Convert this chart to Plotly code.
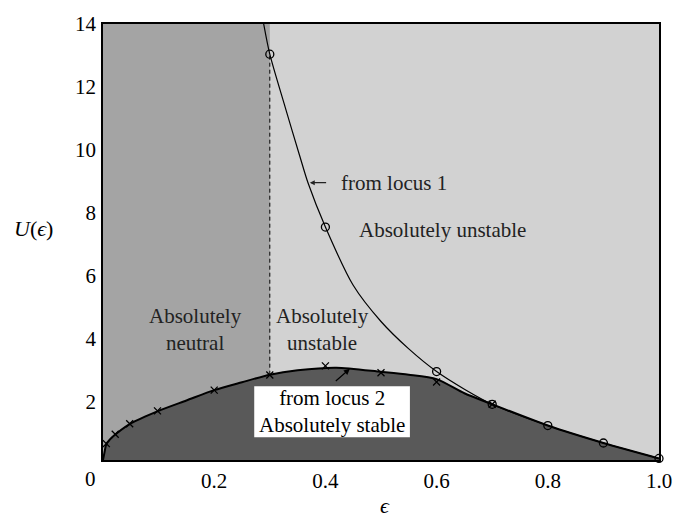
import plotly.graph_objects as go

# ---- data ----
locus1_eps = [0.289, 0.3, 0.3276, 0.354, 0.369, 0.4, 0.45, 0.5, 0.55, 0.6, 0.65, 0.7, 0.8, 0.9, 1.0]
locus1_U = [14.0, 13.04, 11.36, 9.80, 8.94, 7.55, 5.70, 4.55, 3.68, 2.96, 2.40, 1.92, 1.245, 0.69, 0.2]

circle_eps = [0.3, 0.4, 0.6, 0.7, 0.8, 0.9, 1.0]
circle_U = [13.04, 7.55, 2.96, 1.92, 1.245, 0.69, 0.2]

locus2_eps = [0.0, 0.003, 0.006, 0.015, 0.025, 0.05, 0.1, 0.15, 0.2, 0.25, 0.3, 0.35, 0.42,
              0.5, 0.55, 0.6, 0.65, 0.7, 0.8, 0.9, 1.0]
locus2_U = [0.15, 0.42, 0.66, 0.85, 1.0, 1.31, 1.71, 2.04, 2.37, 2.62, 2.86, 3.0, 3.08,
            2.95, 2.86, 2.72, 2.27, 1.92, 1.245, 0.69, 0.2]

cross_eps = [0.006, 0.022, 0.048, 0.098, 0.2, 0.3, 0.4, 0.5, 0.6, 0.7]
cross_U = [0.67, 0.97, 1.30, 1.71, 2.37, 2.85, 3.14, 2.92, 2.63, 1.92]

neutral_eps = [0.0, 0.3, 0.3, 0.0]
neutral_U = [0.0, 0.0, 14.0, 14.0]

dashed_eps = [0.3, 0.3]
dashed_U = [2.86, 13.04]

x_ticks = [0.2, 0.4, 0.6, 0.8, 1.0]
x_ticktext = ["0.2", "0.4", "0.6", "0.8", "1.0"]
y_ticks = [2, 4, 6, 8, 10, 12, 14]
y_ticktext = ["2", "4", "6", "8", "10", "12", "14"]

FONT = "Liberation Serif"
LIGHT = "#d2d2d2"
MID = "#a4a4a4"
DARK = "#595959"

fig = go.Figure()

# absolutely neutral region
fig.add_trace(go.Scatter(x=neutral_eps, y=neutral_U, fill="toself", fillcolor=MID,
                         mode="lines", line=dict(width=0), hoverinfo="skip", showlegend=False))
# absolutely stable region (below locus 2)
fig.add_trace(go.Scatter(x=locus2_eps, y=locus2_U, fill="tozeroy", fillcolor=DARK,
                         mode="lines", line=dict(color="black", width=2, shape="spline", smoothing=0.7),
                         hoverinfo="skip", showlegend=False))
# dashed divider
fig.add_trace(go.Scatter(x=dashed_eps, y=dashed_U, mode="lines",
                         line=dict(color="black", width=1, dash="4px,3px"),
                         hoverinfo="skip", showlegend=False))
# locus 1 curve
fig.add_trace(go.Scatter(x=locus1_eps, y=locus1_U, mode="lines",
                         line=dict(color="black", width=1.2, shape="spline", smoothing=0.8),
                         hoverinfo="skip", showlegend=False))
# markers
fig.add_trace(go.Scatter(x=circle_eps, y=circle_U, mode="markers",
                         marker=dict(symbol="circle-open", size=8, color="black", line=dict(width=1.3)),
                         showlegend=False, cliponaxis=False))
fig.add_trace(go.Scatter(x=cross_eps, y=cross_U, mode="markers",
                         marker=dict(symbol="x-thin-open", size=7, color="black", line=dict(width=1.3)),
                         showlegend=False))

# white label box
fig.add_shape(type="rect", xref="x", yref="y", x0=0.272, x1=0.552, y0=0.87, y1=2.49,
              fillcolor="white", line=dict(width=0), layer="above")

txt = dict(family=FONT, size=21, color="#222222")
ann = [
    dict(x=0.166, y=4.28, text="Absolutely<br>neutral"),
    dict(x=0.395, y=4.28, text="Absolutely<br>unstable"),
    dict(x=0.61, y=7.47, text="Absolutely unstable"),
    dict(x=0.412, y=1.68, text="from locus 2<br>Absolutely stable", font=dict(family=FONT, size=21, color="black")),
]
for a in ann:
    fig.add_annotation(xref="x", yref="y", showarrow=False, font=a.pop("font", txt),
                       align="center", **a)

fig.add_annotation(xref="x", yref="y", x=0.424, y=8.96, text="from locus 1", xanchor="left",
                   showarrow=False, font=txt)
fig.add_annotation(xref="x", yref="y", axref="x", ayref="y", x=0.372, y=8.96, ax=0.404, ay=8.96,
                   text="", showarrow=True, arrowhead=2, arrowsize=0.9, arrowwidth=1.1,
                   arrowcolor="#222222")
# arrow from locus-2 label to the curve
fig.add_annotation(xref="x", yref="y", axref="x", ayref="y", x=0.444, y=3.05, ax=0.416, ay=2.62,
                   text="", showarrow=True, arrowhead=2, arrowsize=1, arrowwidth=1.2, arrowcolor="black")

# corner zero and axis titles
fig.add_annotation(xref="paper", yref="paper", x=-0.023, y=-0.043, xanchor="center", yanchor="middle",
                   text="0", showarrow=False, font=dict(family=FONT, size=21, color="black"))
fig.add_annotation(xref="paper", yref="paper", x=-0.125, y=0.53, xanchor="center", yanchor="middle",
                   text="<i>U</i>(<i>\u03f5</i>)",
                   showarrow=False, font=dict(family=FONT, size=22, color="black"))
fig.add_annotation(xref="paper", yref="paper", x=0.508, y=-0.105, xanchor="center", yanchor="middle",
                   text="<i>\u03f5</i>",
                   showarrow=False, font=dict(family=FONT, size=22, color="black"))

axis_common = dict(showgrid=False, zeroline=False, showline=True, mirror=True,
                   linecolor="black", linewidth=1.5, ticks="", ticklen=0,
                   tickfont=dict(family=FONT, size=21, color="black"))
fig.update_xaxes(range=[0, 1], tickvals=x_ticks, ticktext=x_ticktext, ticklabelstandoff=1, **axis_common)
fig.update_yaxes(range=[0.15, 14], tickvals=y_ticks, ticktext=y_ticktext, ticklabelstandoff=1, **axis_common)

fig.update_layout(width=684, height=518, margin=dict(l=103, r=15, t=15, b=58),
                  plot_bgcolor=LIGHT, paper_bgcolor="white", showlegend=False,
                  font=dict(family=FONT))

fig.write_html("out.html")
